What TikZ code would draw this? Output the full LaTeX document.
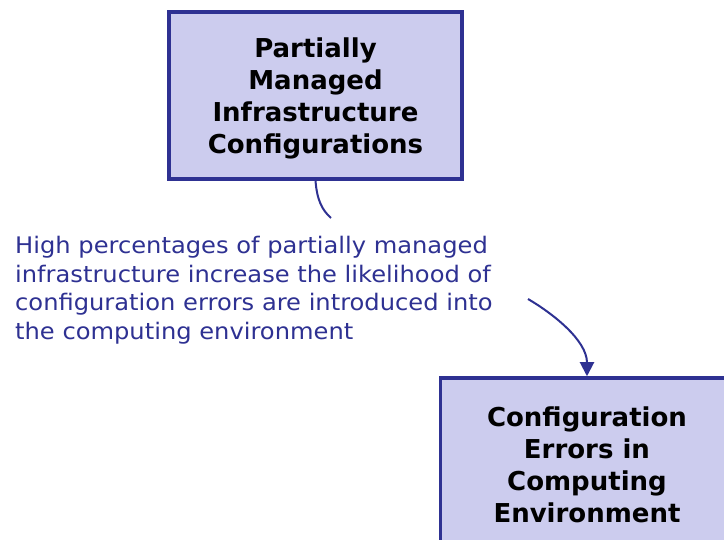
\documentclass[tikz,border=0pt]{standalone}
\usepackage{fontspec}
\setmainfont{DejaVu Sans}
\newfontfamily\boxfont{DejaVu Sans}
\newfontfamily\lblfont[FakeStretch=1.06]{DejaVu Sans}
\usetikzlibrary{arrows.meta}
\definecolor{boxfill}{RGB}{204,204,238}
\definecolor{navy}{RGB}{46,49,146}
\newcommand{\topstrut}{\rule{0pt}{25.8pt}}
\begin{document}
\begin{tikzpicture}[x=1pt,y=-1pt,
  box/.style={draw=navy,fill=boxfill,line width=3.5pt,minimum width=293pt,minimum height=167pt,inner sep=0pt,align=center,font=\boxfont\bfseries\fontsize{26}{32}\selectfont,text=black},
  lbl/.style={text=navy,align=left,inner sep=0pt,font=\lblfont\fontsize{22.8}{28.5}\selectfont},
  conn/.style={draw=navy,line width=2pt}]
\useasboundingbox (0,0) rectangle (724,540);
\node[box] (top) at (315.5,95.5) {\topstrut Partially\\Managed\\Infrastructure\\Configurations};
\node[box] (bot) at (587,461.5) {\topstrut Configuration\\Errors in\\Computing\\Environment};
\node[lbl,anchor=north west] (lab) at (15,236) {High percentages of partially managed\\infrastructure increase the likelihood of\\configuration errors are introduced into\\the computing environment};
\coordinate (c1) at (331,218);
\coordinate (c2) at (528,299);
\draw[conn] (top.south) .. controls (317,200) and (322,210) .. (c1);
\draw[conn,-{Triangle[length=14pt,width=14pt]}] (c2) .. controls (552,313) and (587,340) .. (bot.north);
\end{tikzpicture}
\end{document}
